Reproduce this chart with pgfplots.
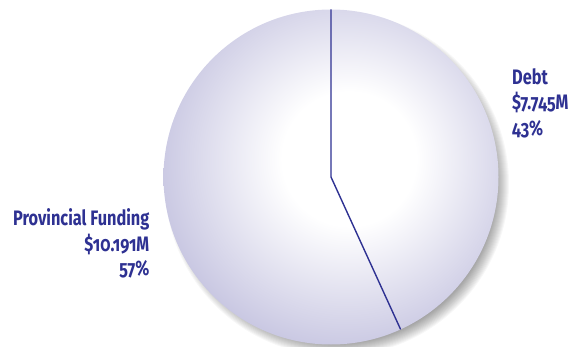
\documentclass[border=0pt]{standalone}
\usepackage{fontspec}
\setmainfont{Fira Sans}[Numbers=OldStyle]
\newfontfamily\lblfont{Fira Sans}[Numbers=OldStyle,FakeStretch=0.78,BoldFont={Fira Sans Bold}]
\usepackage{pgfplots}
\pgfplotsset{compat=1.18}
\definecolor{lav}{RGB}{178,176,214}
\definecolor{navy}{RGB}{46,49,146}
\pgfdeclareradialshading{pieball}{\pgfpoint{3bp}{3bp}}{%
  color(0bp)=(white); color(10bp)=(white); color(28bp)=(lav!70!white); color(42bp)=(lav!93!white); color(50bp)=(lav); color(100bp)=(lav)}
\begin{document}
\begin{tikzpicture}
\useasboundingbox (0,0) rectangle (576bp,347bp);
% data: Provincial Funding 10.191, Debt 7.745
\pgfmathsetmacro\debt{7.745}
\pgfmathsetmacro\prov{10.191}
\pgfmathsetmacro\ang{90-360*\debt/(\debt+\prov)}
\pgfmathsetmacro\ex{cos(\ang)}
\pgfmathsetmacro\ey{sin(\ang)}
\begin{axis}[
  at={(0,0)}, anchor=south west,
  hide axis, scale only axis,
  width=576bp, height=347bp,
  xmin=-1.9761, xmax=1.4627, ymin=-1.0149, ymax=1.0567,
  clip=false,
]
% shadow
\pgfplotsinvokeforeach{0,...,14}{
  \fill[black,opacity=0.03] (axis cs:0,0) ++(6bp,-7bp) circle[radius={158bp+#1bp}];
}
\shade[shading=pieball] (axis cs:0,0) circle[radius=167.5bp];
\addplot[navy, line width=1.4pt, mark=none] coordinates {(0,1) (0,0) (\ex,\ey)};
\node[anchor=base east, text=navy, font=\lblfont\bfseries\fontsize{21}{25}\selectfont, inner sep=0pt]
  at (axis cs:-1.0836,-0.2925) {Provincial Funding};
\node[anchor=base east, text=navy, font=\lblfont\bfseries\fontsize{21}{25}\selectfont, inner sep=0pt]
  at (axis cs:-1.0836,-0.4418) {\$10.191M};
\node[anchor=base east, text=navy, font=\lblfont\bfseries\fontsize{21}{25}\selectfont, inner sep=0pt]
  at (axis cs:-1.0836,-0.5910) {57\%};
\node[anchor=base west, text=navy, font=\lblfont\bfseries\fontsize{21}{25}\selectfont, inner sep=0pt]
  at (axis cs:1.0806,0.5493) {Debt};
\node[anchor=base west, text=navy, font=\lblfont\bfseries\fontsize{21}{25}\selectfont, inner sep=0pt]
  at (axis cs:1.0806,0.4000) {\$7.745M};
\node[anchor=base west, text=navy, font=\lblfont\bfseries\fontsize{21}{25}\selectfont, inner sep=0pt]
  at (axis cs:1.0806,0.2507) {43\%};
\end{axis}
\end{tikzpicture}
\end{document}
